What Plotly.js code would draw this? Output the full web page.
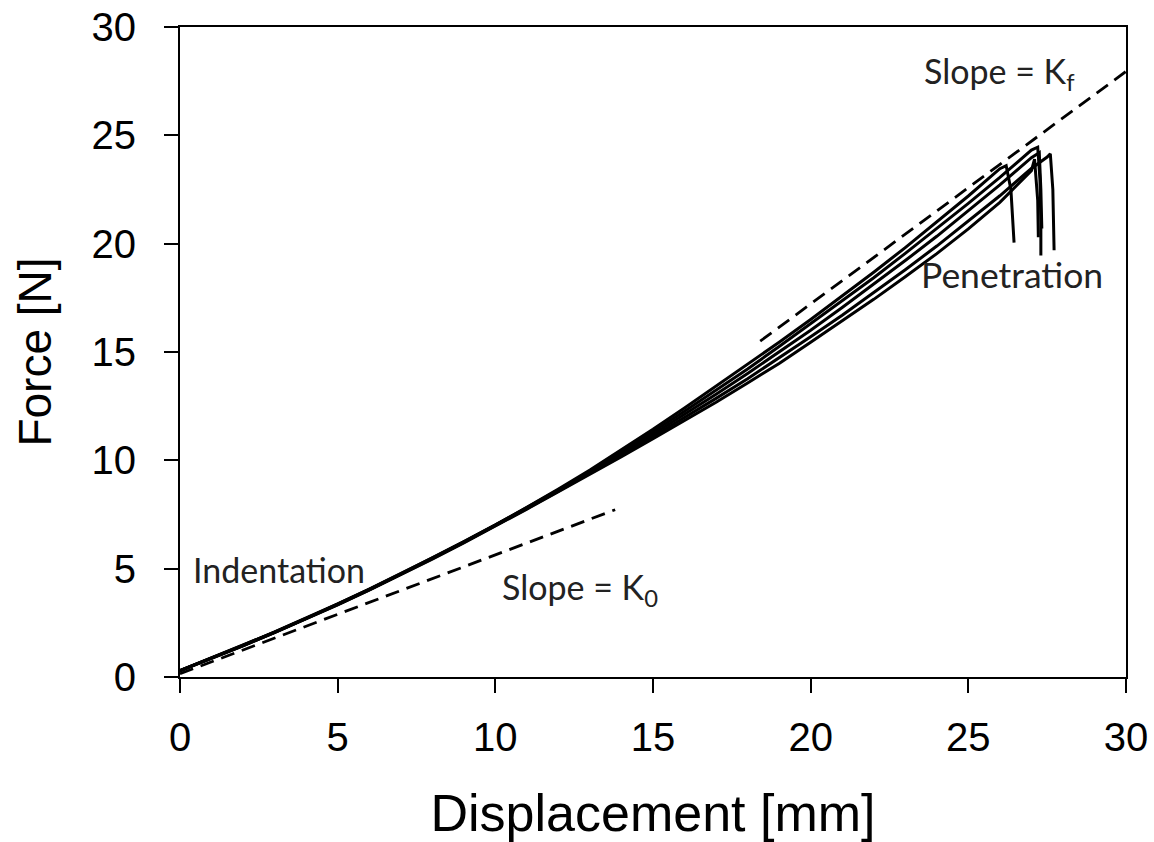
<!DOCTYPE html>
<html>
<head>
<meta charset="utf-8">
<script src="https://cdn.plot.ly/plotly-3.0.1.min.js"></script>
<style>html,body{margin:0;padding:0;background:#fff;}#chart{width:1154px;height:842px;}</style>
</head>
<body>
<div id="chart"></div>
<script>
// Displacement [mm] sample positions and Force [N] readings for five test curves
var dispA = [0, 1, 2, 3, 4, 5, 6, 7, 8, 9, 10, 11, 12, 13, 14, 15, 16, 17, 18, 19, 20, 21, 22, 23, 24, 25, 26, 26.2, 26.35, 26.42, 26.45];
var forceA = [0.30, 0.87, 1.47, 2.08, 2.71, 3.37, 4.06, 4.77, 5.50, 6.25, 7.02, 7.83, 8.67, 9.55, 10.47, 11.43, 12.42, 13.42, 14.42, 15.45, 16.50, 17.58, 18.68, 19.82, 20.99, 22.20, 23.46, 23.60, 22.50, 21.00, 20.05];

var dispB = [0, 1, 2, 3, 4, 5, 6, 7, 8, 9, 10, 11, 12, 13, 14, 15, 16, 17, 18, 19, 20, 21, 22, 23, 24, 25, 26, 27, 27.2, 27.27, 27.3, 27.3];
var forceB = [0.30, 0.88, 1.46, 2.07, 2.70, 3.36, 4.05, 4.76, 5.49, 6.24, 7.01, 7.81, 8.64, 9.50, 10.40, 11.32, 12.27, 13.24, 14.22, 15.25, 16.30, 17.36, 18.43, 19.55, 20.69, 21.86, 23.06, 24.32, 24.45, 23.00, 21.00, 19.45];

var dispC = [0, 1, 2, 3, 4, 5, 6, 7, 8, 9, 10, 11, 12, 13, 14, 15, 16, 17, 18, 19, 20, 21, 22, 23, 24, 25, 26, 27, 27.25, 27.3, 27.33];
var forceC = [0.29, 0.86, 1.45, 2.06, 2.69, 3.35, 4.03, 4.74, 5.47, 6.22, 6.99, 7.79, 8.61, 9.45, 10.31, 11.20, 12.11, 13.05, 14.01, 14.99, 16.00, 17.05, 18.13, 19.22, 20.34, 21.51, 22.71, 23.97, 24.20, 22.50, 20.70];

var dispD = [0, 1, 2, 3, 4, 5, 6, 7, 8, 9, 10, 11, 12, 13, 14, 15, 16, 17, 18, 19, 20, 21, 22, 23, 24, 25, 26, 27, 27.5, 27.6, 27.68, 27.72];
var forceD = [0.30, 0.86, 1.45, 2.06, 2.69, 3.34, 4.02, 4.73, 5.46, 6.21, 6.98, 7.77, 8.58, 9.40, 10.24, 11.10, 11.97, 12.86, 13.77, 14.72, 15.70, 16.70, 17.73, 18.80, 19.89, 21.03, 22.21, 23.47, 24.00, 24.15, 22.50, 19.70];

var dispE = [0, 1, 2, 3, 4, 5, 6, 7, 8, 9, 10, 11, 12, 13, 14, 15, 16, 17, 18, 19, 20, 21, 22, 23, 24, 25, 26, 27, 27.1, 27.2, 27.22];
var forceE = [0.28, 0.85, 1.44, 2.05, 2.68, 3.33, 4.01, 4.72, 5.44, 6.19, 6.96, 7.75, 8.55, 9.35, 10.17, 11.00, 11.82, 12.68, 13.57, 14.47, 15.45, 16.43, 17.43, 18.47, 19.54, 20.68, 21.91, 23.37, 23.90, 22.00, 20.30];

// Tangent lines
var k0Disp = [0, 13.8];
var k0Force = [0.15, 7.72];
var kfDisp = [18.4, 30];
var kfForce = [15.5, 27.95];

// Axis ticks
var tickVals = [0, 5, 10, 15, 20, 25, 30];
var tickText = ['0', '5', '10', '15', '20', '25', '30'];

// Text labels
var labelText = ['Indentation', 'Slope = K<sub>0</sub>', 'Slope = K<sub>f</sub>', 'Penetration'];
var labelX = [0.35, 10.15, 23.52, 23.45];
var labelY = [4.95, 4.07, 27.88, 18.59];

var curveLine = {color: '#000', width: 3};
var dashLine = {color: '#000', width: 2.8, dash: '14px,8px'};

var traces = [
  {x: dispA, y: forceA, mode: 'lines', line: curveLine},
  {x: dispB, y: forceB, mode: 'lines', line: curveLine},
  {x: dispC, y: forceC, mode: 'lines', line: curveLine},
  {x: dispD, y: forceD, mode: 'lines', line: curveLine},
  {x: dispE, y: forceE, mode: 'lines', line: curveLine},
  {x: k0Disp, y: k0Force, mode: 'lines', line: dashLine},
  {x: kfDisp, y: kfForce, mode: 'lines', line: dashLine}
];

var annFont = {family: 'Lato, "Open Sans", sans-serif', size: 34, color: '#222'};
var annotations = labelText.map(function (t, i) {
  return {x: labelX[i], y: labelY[i], xref: 'x', yref: 'y', text: t, showarrow: false,
          xanchor: 'left', yanchor: 'middle',
          font: i === 3 ? Object.assign({}, annFont, {size: 35.5}) : annFont};
});

var axisCommon = {
  range: [0, 30], tickvals: tickVals, ticktext: tickText,
  showline: true, mirror: true, linecolor: '#000', linewidth: 2,
  ticks: 'outside', ticklen: 14, tickwidth: 2, tickcolor: '#000',
  showgrid: false, zeroline: false, automargin: false,
  tickfont: {family: 'Arial, "Liberation Sans", sans-serif', size: 40, color: '#000'}
};

var layout = {
  width: 1154, height: 842,
  margin: {l: 180, r: 28, t: 27, b: 165},
  paper_bgcolor: '#fff', plot_bgcolor: '#fff',
  showlegend: false,
  xaxis: Object.assign({}, axisCommon, {
    ticklabelstandoff: 10,
    title: {text: 'Displacement [mm]', standoff: 37, font: {family: 'Arial, "Liberation Sans", sans-serif', size: 52, color: '#000'}}
  }),
  yaxis: Object.assign({}, axisCommon, {
    ticklabelstandoff: 20,
    title: {text: 'Force [N]', standoff: 25, font: {family: 'Arial, "Liberation Sans", sans-serif', size: 46, color: '#000'}}
  }),
  annotations: annotations
};

Plotly.newPlot('chart', traces, layout, {displayModeBar: false, staticPlot: true});
</script>
</body>
</html>
